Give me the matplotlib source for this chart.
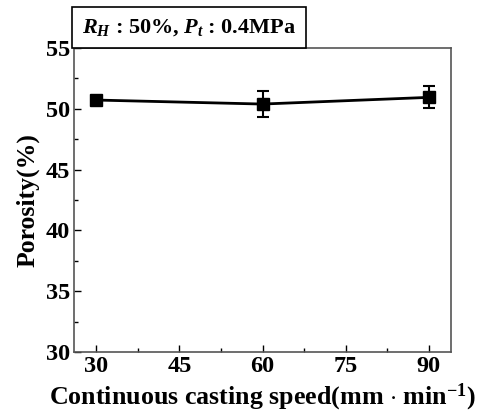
import matplotlib
matplotlib.use('Agg')
import matplotlib.pyplot as plt

plt.rcParams['font.family'] = ['Liberation Serif', 'DejaVu Serif']
plt.rcParams['font.weight'] = 'bold'
plt.rcParams['mathtext.fontset'] = 'custom'
plt.rcParams['mathtext.rm'] = 'Liberation Serif:bold'
plt.rcParams['mathtext.it'] = 'Liberation Serif:bold:italic'
plt.rcParams['mathtext.bf'] = 'Liberation Serif:bold'

# 数据
speed = [30, 60, 90]
porosity = [50.72, 50.39, 50.94]
err = [0.3, 1.1, 0.9]
xticks = [30, 45, 60, 75, 90]
yticks = [30, 35, 40, 45, 50, 55]

fig = plt.figure(figsize=(4.78, 4.19), dpi=100)
ax = fig.add_axes([74 / 478, 1 - 352 / 419, 377 / 478, 304 / 419])

ax.errorbar(speed, porosity, yerr=err, fmt='s-', color='black', markersize=8,
            linewidth=2, elinewidth=1.5, capsize=4, capthick=1.5)

ax.set_xlim(26, 94)
ax.set_ylim(30, 55)
ax.set_xticks(xticks)
ax.set_yticks(yticks)
ax.set_xticks([37.5, 52.5, 67.5, 82.5], minor=True)
ax.set_yticks([32.5, 37.5, 42.5, 47.5, 52.5], minor=True)
ax.tick_params(which='both', direction='in', top=False, right=False, labelsize=17.5)
ax.tick_params(which='major', length=5, width=1, pad=3)
ax.tick_params(which='minor', length=3, width=1)
for sp in ax.spines.values():
    sp.set_linewidth(1.2)
    sp.set_color('#555555')

ax.set_ylabel('Porosity(%)', fontsize=18.5, fontweight='bold', labelpad=4)
ax.set_xlabel(r'Continuous casting speed(mm $\cdot$ min$^{-1}$)', fontsize=18.7,
              fontweight='bold', labelpad=3)

fig.text(0.172, 0.934, r'$R_H$ : 50%, $P_t$ : 0.4MPa', fontsize=16, fontweight='bold',
         va='center', ha='left',
         bbox=dict(boxstyle='square,pad=0.45', facecolor='white', edgecolor='black', linewidth=1.2))

fig.savefig('out.png', dpi=100)
